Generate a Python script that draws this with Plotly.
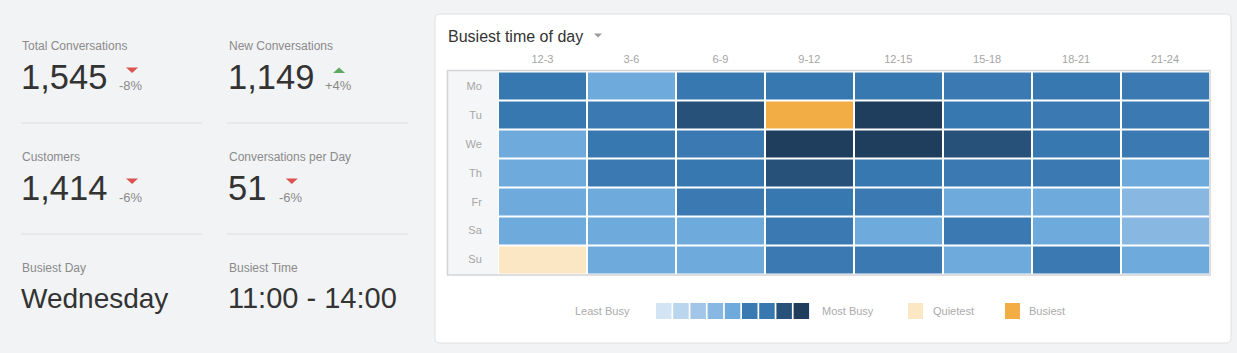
import plotly.graph_objects as go

W, H = 1237, 353

# ---------------- data ----------------
stat_labels = ["Total Conversations", "New Conversations", "Customers", "Conversations per Day"]
stat_values = ["1,545", "1,149", "1,414", "51"]
stat_deltas = [-8, 4, -6, -6]
busiest_day = "Wednesday"
busiest_time = "11:00 - 14:00"

days = ["Mo", "Tu", "We", "Th", "Fr", "Sa", "Su"]
slots = ["12-3", "3-6", "6-9", "9-12", "12-15", "15-18", "18-21", "21-24"]
counts = [
    [30, 22, 31, 33, 32, 29, 30, 28],
    [31, 29, 38, 52, 44, 30, 28, 27],
    [23, 30, 29, 43, 45, 37, 31, 28],
    [22, 28, 30, 39, 31, 29, 27, 21],
    [21, 23, 29, 30, 28, 22, 21, 17],
    [22, 20, 21, 29, 24, 28, 22, 18],
    [9, 20, 22, 27, 26, 24, 28, 21],
]
level_colors = ["#d3e4f4", "#b9d6ee", "#a1c6e8", "#88b8e1", "#6eaadc",
                "#3a79b1", "#3878b0", "#275178", "#1f3d5c"]
quiet_color = "#fce7c4"
busy_color = "#f3ad45"

# ---------------- helpers ----------------
def px(x):
    return x / W

def py(y):
    return 1 - y / H

FONT = "Liberation Sans, Arial, Helvetica, sans-serif"

# categorize cells: 0 = quietest, 1..9 = levels, 10 = busiest
flat = [c for row in counts for c in row]
cmax, cmin = max(flat), min(flat)
cats = []
for row in counts:
    r = []
    for c in row:
        if c == cmax:
            r.append(10)
        elif c == cmin:
            r.append(0)
        else:
            r.append(max(1, min(9, c // 5 + 1)))
    cats.append(r)

palette = [quiet_color] + level_colors + [busy_color]
n = len(palette)
colorscale = []
for i, col in enumerate(palette):
    colorscale.append([i / n, col])
    colorscale.append([(i + 1) / n, col])

fig = go.Figure()

fig.add_trace(go.Heatmap(
    z=cats, x=slots, y=days, customdata=counts,
    colorscale=colorscale, zmin=-0.5, zmax=n - 0.5, showscale=False,
    xgap=2, ygap=2,
    hovertemplate="%{y} %{x}: %{customdata}<extra></extra>",
))

shapes = []
annotations = []

# card
def rounded_rect(x0, y0, x1, y1, r):
    p = (f"M {px(x0 + r)} {py(y0)} L {px(x1 - r)} {py(y0)} "
         f"Q {px(x1)} {py(y0)} {px(x1)} {py(y0 + r)} "
         f"L {px(x1)} {py(y1 - r)} Q {px(x1)} {py(y1)} {px(x1 - r)} {py(y1)} "
         f"L {px(x0 + r)} {py(y1)} Q {px(x0)} {py(y1)} {px(x0)} {py(y1 - r)} "
         f"L {px(x0)} {py(y0 + r)} Q {px(x0)} {py(y0)} {px(x0 + r)} {py(y0)} Z")
    return p

shapes.append(dict(type="path", xref="paper", yref="paper",
                   path=rounded_rect(435, 14, 1231, 343, 5),
                   fillcolor="white", line=dict(color="#dfe0e2", width=1), layer="below"))
# row label column background
shapes.append(dict(type="rect", xref="paper", yref="paper",
                   x0=px(448), x1=px(498), y0=py(274.5), y1=py(70.5),
                   fillcolor="#f5f6f8", line=dict(width=0), layer="below"))
# grid border
shapes.append(dict(type="rect", xref="paper", yref="paper",
                   x0=px(447.5), x1=px(1210), y0=py(275), y1=py(70.5),
                   fillcolor="rgba(0,0,0,0)", line=dict(color="#d2d3d5", width=1.5), layer="above"))

# title
annotations.append(dict(text="Busiest time of day", x=px(446), y=py(37), xref="paper", yref="paper",
                        xanchor="left", yanchor="middle", showarrow=False,
                        font=dict(family=FONT, size=16, color="#333333")))
shapes.append(dict(type="path", xref="paper", yref="paper",
                   path=f"M {px(594)} {py(33.5)} L {px(602)} {py(33.5)} L {px(598)} {py(37.5)} Z",
                   fillcolor="#9a9a9a", line=dict(width=0)))

# ---------------- stats panel ----------------
col_x = [21, 228]
label_y = [46, 157]
value_y = [77, 188]
for i, (lab, val, d) in enumerate(zip(stat_labels, stat_values, stat_deltas)):
    cx = col_x[i % 2]
    ly = label_y[i // 2]
    vy = value_y[i // 2]
    annotations.append(dict(text=lab, x=px(cx - 1), y=py(ly), xref="paper", yref="paper",
                            xanchor="left", yanchor="middle", showarrow=False,
                            font=dict(family=FONT, size=12, color="#8a8a8a")))
    annotations.append(dict(text=val, x=px(cx - 2), y=py(vy), xref="paper", yref="paper",
                            xanchor="left", yanchor="middle", showarrow=False,
                            font=dict(family=FONT, size=34.5, color="#333333")))
    wnum = sum(0.278 if ch in ",." else 0.556 for ch in val) * 34
    tx = cx + wnum + 26
    ty = vy - 7
    if d < 0:
        path = f"M {px(tx - 6)} {py(ty - 2.5)} L {px(tx + 6)} {py(ty - 2.5)} L {px(tx)} {py(ty + 3)} Z"
        tc = "#d9534f"
    else:
        path = f"M {px(tx - 6)} {py(ty + 3)} L {px(tx + 6)} {py(ty + 3)} L {px(tx)} {py(ty - 2.5)} Z"
        tc = "#5fa862"
    shapes.append(dict(type="path", xref="paper", yref="paper", path=path,
                       fillcolor=tc, line=dict(width=0)))
    annotations.append(dict(text=f"{d:+d}%", x=px(tx - 1), y=py(vy + 9), xref="paper", yref="paper",
                            xanchor="center", yanchor="middle", showarrow=False,
                            font=dict(family=FONT, size=13, color="#8a8a8a")))

# dividers
for dy in (123, 234):
    for x0, x1 in ((21, 202), (227, 408)):
        shapes.append(dict(type="line", xref="paper", yref="paper",
                           x0=px(x0), x1=px(x1), y0=py(dy), y1=py(dy),
                           line=dict(color="#dcdddf", width=1)))

for cx, lab, val, sz in ((21, "Busiest Day", busiest_day, 28), (228, "Busiest Time", busiest_time, 29)):
    annotations.append(dict(text=lab, x=px(cx - 1), y=py(268), xref="paper", yref="paper",
                            xanchor="left", yanchor="middle", showarrow=False,
                            font=dict(family=FONT, size=12, color="#8a8a8a")))
    annotations.append(dict(text=val, x=px(cx - 2), y=py(298), xref="paper", yref="paper",
                            xanchor="left", yanchor="middle", showarrow=False,
                            font=dict(family=FONT, size=sz, color="#333333")))

# ---------------- heat legend ----------------
leg_y0, leg_y1 = 303, 319
legfont = dict(family=FONT, size=11, color="#ababab")
annotations.append(dict(text="Least Busy", x=px(602), y=py(311), xref="paper", yref="paper",
                        xanchor="center", yanchor="middle", showarrow=False, font=legfont))
for i, col in enumerate(level_colors):
    x0 = 656 + i * 17.2
    shapes.append(dict(type="rect", xref="paper", yref="paper",
                       x0=px(x0), x1=px(x0 + 15.5), y0=py(leg_y1), y1=py(leg_y0),
                       fillcolor=col, line=dict(width=0)))
annotations.append(dict(text="Most Busy", x=px(848), y=py(311), xref="paper", yref="paper",
                        xanchor="center", yanchor="middle", showarrow=False, font=legfont))
for sx, col, lab, lx in ((908, quiet_color, "Quietest", 953), (1005, busy_color, "Busiest", 1047)):
    shapes.append(dict(type="rect", xref="paper", yref="paper",
                       x0=px(sx), x1=px(sx + 15), y0=py(leg_y1), y1=py(leg_y0),
                       fillcolor=col, line=dict(width=0)))
    annotations.append(dict(text=lab, x=px(lx), y=py(311), xref="paper", yref="paper",
                            xanchor="center", yanchor="middle", showarrow=False, font=legfont))

fig.update_layout(
    width=W, height=H, margin=dict(l=0, r=0, t=0, b=0, autoexpand=False),
    paper_bgcolor="#f2f3f5", plot_bgcolor="white",
    shapes=shapes, annotations=annotations, showlegend=False,
    xaxis=dict(type="category", domain=[px(498), px(1209.5)], side="top", showgrid=False,
               zeroline=False, showline=False, ticks="outside", ticklen=3,
               tickcolor="rgba(0,0,0,0)", automargin=False,
               tickfont=dict(family=FONT, size=11, color="#a5a5a5"), fixedrange=True),
    yaxis=dict(type="category", domain=[py(274), py(71.5)], autorange="reversed", showgrid=False,
               zeroline=False, showline=False, ticks="outside", ticklen=13,
               tickcolor="rgba(0,0,0,0)", automargin=False,
               tickfont=dict(family=FONT, size=11, color="#a5a5a5"), fixedrange=True),
)

fig.write_html("out.html")
